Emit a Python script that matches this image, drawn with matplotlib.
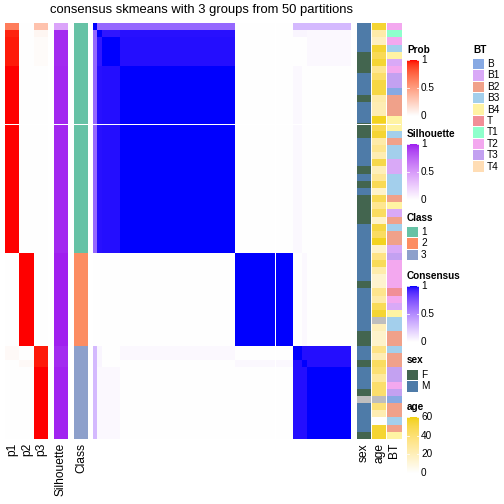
import numpy as np
import matplotlib
matplotlib.use('Agg')
import matplotlib.pyplot as plt
from matplotlib.colors import ListedColormap, to_rgb

plt.rcParams['font.family'] = ['Liberation Sans', 'DejaVu Sans']

# sample groups (rows/columns are ordered by class, then by sub-block)
group_sizes = [1, 1, 4, 26, 13, 2, 1, 10]
group_class = [1, 1, 1, 1, 2, 3, 3, 3]
group_consensus = [
    [1.00, 0.65, 0.65, 0.65, 0.00, 0.30, 0.30, 0.30],
    [0.65, 1.00, 0.96, 0.97, 0.00, 0.04, 0.04, 0.03],
    [0.65, 0.96, 1.00, 0.975, 0.00, 0.00, 0.00, 0.03],
    [0.65, 0.97, 0.975, 1.00, 0.00, 0.03, 0.00, 0.00],
    [0.00, 0.00, 0.00, 0.00, 1.00, 0.00, 0.03, 0.00],
    [0.30, 0.04, 0.00, 0.03, 0.00, 1.00, 0.975, 0.975],
    [0.30, 0.04, 0.00, 0.00, 0.03, 0.975, 1.00, 0.975],
    [0.30, 0.03, 0.03, 0.00, 0.00, 0.975, 0.975, 1.00],
]
group_p1 = [0.66, 0.96, 0.975, 1.00, 0.00, 0.03, 0.00, 0.00]
group_p2 = [0.00, 0.00, 0.00, 0.00, 1.00, 0.00, 0.03, 0.00]
group_p3 = [0.32, 0.05, 0.02, 0.00, 0.00, 0.975, 0.975, 1.00]
group_silhouette = [0.45, 0.97, 0.97, 0.98, 1.00, 0.97, 0.97, 0.99]

sex = list('MMMMFFFMMMFMMMFFMMMMFMFMFFFFMMMMMMMMFMMMMMMFFMMFMMMFNMMMMF')
age = [55, 25, 18, 55, 48, 55, 32, 42, 52, 52, 25, 22, 22, 58, 48, 55, 25, 32,
       22, 50, 20, 30, 48, 15, 48, 32, 45, 15, 52, 45, 58, 15, 35, 47, 24, 14,
       14, 33, 25, 47, 55, np.nan, 20, 15, 15, 35, 22, 45, 40, 28, 42, 42,
       np.nan, 38, 22, 0, 55, 55]
bt = ['T2', 'T1', 'T2', 'B3', 'B4', 'B1', 'T2', 'T3', 'T3', 'B', 'B2', 'B2',
      'B2', 'B4', 'B4', 'B3', 'B2', 'B3', 'B3', 'B1', 'B1', 'B3', 'B3', 'B3',
      'B2', 'B4', 'B1', 'B2', 'B3', 'B2', 'B2', 'B1', 'T3', 'T2', 'T2', 'T2',
      'T2', 'T', 'T2', 'B1', 'B4', 'B3', 'B3', 'B2', 'B2', 'B3', 'B2', 'B2',
      'T3', 'T3', 'T2', 'T3', 'B', 'B2', 'B2', 'B3', 'B2', 'B4']

class_colors = {1: '#66C2A5', 2: '#FC8D62', 3: '#8DA0CB'}
sex_colors = {'F': '#43654F', 'M': '#4E7BA8', 'N': '#BEBEBE'}
bt_colors = {'B': '#87A9E3', 'B1': '#D9A9F7', 'B2': '#F0A18A', 'B3': '#A3CFEC',
             'B4': '#FFF3A3', 'T': '#F18E97', 'T1': '#8EFFCC', 'T2': '#F3A8EF',
             'T3': '#C3A1F1', 'T4': '#FFDDB5'}


# colour ramps interpolated in LAB space, like colorRamp2
def _to_lab(c):
    rgb = np.array(to_rgb(c))
    lin = np.where(rgb <= 0.04045, rgb / 12.92, ((rgb + 0.055) / 1.055) ** 2.4)
    m = np.array([[0.4124, 0.3576, 0.1805], [0.2126, 0.7152, 0.0722], [0.0193, 0.1192, 0.9505]])
    xyz = m @ lin / np.array([0.95047, 1.0, 1.08883])
    d = 6 / 29
    f = np.where(xyz > d ** 3, np.cbrt(xyz), xyz / (3 * d * d) + 4 / 29)
    return np.array([116 * f[1] - 16, 500 * (f[0] - f[1]), 200 * (f[1] - f[2])])


def _from_lab(lab):
    d = 6 / 29
    fy = (lab[:, 0] + 16) / 116
    fx = fy + lab[:, 1] / 500
    fz = fy - lab[:, 2] / 200
    f = np.stack([fx, fy, fz], axis=1)
    xyz = np.where(f > d, f ** 3, 3 * d * d * (f - 4 / 29)) * np.array([0.95047, 1.0, 1.08883])
    minv = np.linalg.inv(np.array([[0.4124, 0.3576, 0.1805], [0.2126, 0.7152, 0.0722], [0.0193, 0.1192, 0.9505]]))
    lin = np.clip(xyz @ minv.T, 0, 1)
    rgb = np.where(lin <= 0.0031308, 12.92 * lin, 1.055 * lin ** (1 / 2.4) - 0.055)
    return np.clip(rgb, 0, 1)


def lab_cmap(c0, c1, n=256):
    t = np.linspace(0, 1, n)[:, None]
    lab = _to_lab(c0) * (1 - t) + _to_lab(c1) * t
    return ListedColormap(_from_lab(lab))


prob_cmap = lab_cmap('white', 'red')
sil_cmap = lab_cmap('white', '#A020F0')
cons_cmap = lab_cmap('white', 'blue')
age_cmap = lab_cmap('white', '#F2D20A')
age_cmap.set_bad('#BEBEBE')

# expand groups to samples
n = sum(group_sizes)
consensus = np.repeat(np.repeat(np.array(group_consensus), group_sizes, axis=0), group_sizes, axis=1)
p1 = np.repeat(group_p1, group_sizes)
p2 = np.repeat(group_p2, group_sizes)
p3 = np.repeat(group_p3, group_sizes)
silhouette = np.repeat(group_silhouette, group_sizes)
classes = np.repeat(group_class, group_sizes)

W = H = 504
fig = plt.figure(figsize=(7, 7), dpi=72)


def px_axes(x0, y0, x1, y1):
    ax = fig.add_axes([x0 / W, 1 - y1 / H, (x1 - x0) / W, (y1 - y0) / H])
    ax.set_axis_off()
    return ax


def px_text(x, y, s, **kw):
    fig.text(x / W, 1 - y / H, s, **kw)


top, bottom = 23.3, 439.0
split_row, split_col = 14, 41


def column(ax, img, **kw):
    ax.imshow(img, aspect='auto', interpolation='nearest',
              extent=(0, img.shape[1], n, 0), **kw)
    ax.axhline(split_row, color='white', lw=1)


column(px_axes(5, top, 48, bottom), np.column_stack([p1, p2, p3]), cmap=prob_cmap, vmin=0, vmax=1)
column(px_axes(54, top, 68, bottom), silhouette[:, None], cmap=sil_cmap, vmin=0, vmax=1)
column(px_axes(74, top, 88, bottom), np.array([[to_rgb(class_colors[c])] for c in classes]))
ax = px_axes(93, top, 351, bottom)
column(ax, consensus, cmap=cons_cmap, vmin=0, vmax=1)
ax.axvline(split_col, color='white', lw=1)
column(px_axes(357, top, 371, bottom), np.array([[to_rgb(sex_colors[s])] for s in sex]))
column(px_axes(372, top, 386, bottom), np.ma.masked_invalid(np.array(age, float))[:, None],
       cmap=age_cmap, vmin=0, vmax=60)
column(px_axes(387, top, 401, bottom), np.array([[to_rgb(bt_colors[b])] for b in bt]))

px_text(202, 10.5, 'consensus skmeans with 3 groups from 50 partitions',
        fontsize=13, ha='center', va='center')

for x, lab in [(12.5, 'p1'), (27, 'p2'), (41, 'p3'), (61, 'Silhouette'), (81, 'Class'),
               (364, 'sex'), (379, 'age'), (394, 'BT')]:
    px_text(x, 443, lab, fontsize=12, rotation=90, ha='center', va='top')


def bar_legend(title, y_title, y0, y1, cmap, vmax, ticks):
    px_text(407, y_title, title, fontsize=10, fontweight='bold', va='center')
    ax = px_axes(407, y0, 419, y1)
    ax.imshow(np.linspace(vmax, 0, 200)[:, None], cmap=cmap, vmin=0, vmax=vmax,
              aspect='auto', extent=(0, 1, 0, vmax))
    ax.set_ylim(0, vmax)
    for v, s in ticks:
        ax.plot([0, 0.18], [v, v], color='white', lw=0.8)
        ax.plot([0.82, 1], [v, v], color='white', lw=0.8)
        px_text(421, y1 - (y1 - y0) * v / vmax, s, fontsize=10, va='center')


def box_legend(x, title, y_title, y_first, items, colors):
    px_text(x, y_title, title, fontsize=10, fontweight='bold', va='center')
    for i, k in enumerate(items):
        y = y_first + 11.4 * i
        ax = px_axes(x, y - 5.3, x + 11, y + 5.3)
        ax.imshow([[to_rgb(colors[k])]], aspect='auto')
        px_text(x + 14, y, str(k), fontsize=10, va='center')


bar_legend('Prob', 50, 60, 116, prob_cmap, 1, [(1, '1'), (0.5, '0.5'), (0, '0')])
bar_legend('Silhouette', 134, 144, 200, sil_cmap, 1, [(1, '1'), (0.5, '0.5'), (0, '0')])
box_legend(407, 'Class', 218, 232, [1, 2, 3], class_colors)
bar_legend('Consensus', 276, 286, 342, cons_cmap, 1, [(1, '1'), (0.5, '0.5'), (0, '0')])
box_legend(407, 'sex', 360, 375, ['F', 'M'], sex_colors)
bar_legend('age', 407, 417, 473, age_cmap, 60, [(60, '60'), (40, '40'), (20, '20'), (0, '0')])
box_legend(473, 'BT', 50, 64, list(bt_colors), bt_colors)

fig.savefig('out.png', dpi=72)
